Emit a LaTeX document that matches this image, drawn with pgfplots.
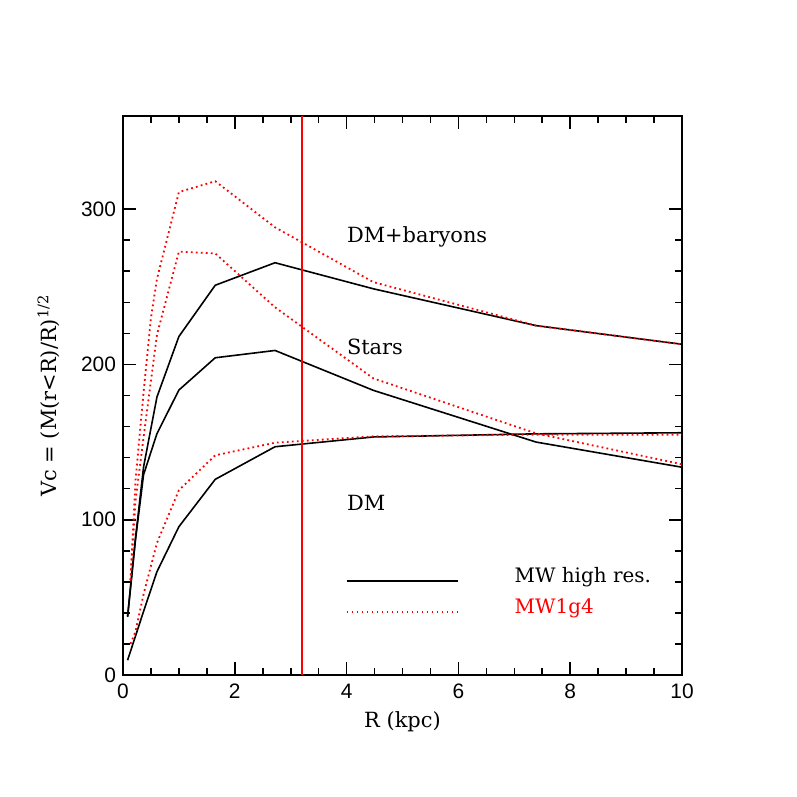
\documentclass[border=0pt]{standalone}
\usepackage{fontspec}
\setmainfont{DejaVu Serif}
\setsansfont{Liberation Sans}
\usepackage{pgfplots}
\pgfplotsset{compat=1.18}
\begin{document}
\begin{tikzpicture}
\path[use as bounding box] (-61.5bp,-61bp) rectangle (337bp,337.5bp);
\begin{axis}[
  at={(0,0)}, anchor=origin,
  scale only axis, width=279.5bp, height=279.5bp,
  xmin=0, xmax=10, ymin=0, ymax=360,
  xtick={0,2,4,6,8,10}, ytick={0,100,200,300},
  minor x tick num=3, minor y tick num=4,
  tick align=inside, tickpos=both,
  major tick length=6.5bp, minor tick length=3.5bp,
  axis line style={line width=1bp},
  every tick/.style={line width=0.8bp, black},
  /pgf/number format/assume math mode=true,
  ticklabel style={font=\sffamily\fontsize{10.5}{12}\selectfont},
  xticklabel style={yshift=-1bp},
  xlabel={R (kpc)},
  ylabel={Vc = (M(r<R)/R)\textsuperscript{1/2}},
  label style={font=\fontsize{10.5}{12}\selectfont},
  xlabel style={at={(axis description cs:0.5,-0.084)}, anchor=center},
  ylabel style={at={(axis description cs:-0.133,0.5)}, anchor=center, rotate=0},
  clip=true,
]
% DM+baryons
\addplot[black, line width=0.8bp] coordinates {(0.082,37.5)(0.135,57)(0.223,88)(0.368,134)(0.607,179)(1.0,218)(1.65,251)(2.72,265.5)(4.48,248.7)(7.39,225)(10,213)};
% Stars
\addplot[black, line width=0.8bp] coordinates {(0.082,37.5)(0.135,56)(0.223,87)(0.368,129)(0.607,155.4)(1.0,183.5)(1.65,204.3)(2.72,209)(4.48,183.3)(7.39,150)(10,133.8)};
% DM
\addplot[black, line width=0.8bp] coordinates {(0.082,9.5)(0.223,25)(0.368,41)(0.607,66.5)(1.0,95.5)(1.65,126)(2.72,147)(4.48,153.3)(7.39,155.3)(10,156)};
% red MW1g4
\addplot[red, line width=0.9bp, dash pattern=on 0.9bp off 1.6bp] coordinates {(0.135,61)(0.223,125)(0.368,182)(0.5,230)(0.607,255)(1.0,311)(1.65,318)(2.72,288.3)(4.48,253)(7.39,225)(10,213)};
\addplot[red, line width=0.9bp, dash pattern=on 0.9bp off 1.6bp] coordinates {(0.135,61)(0.223,112)(0.368,153)(0.607,219)(1.0,272.7)(1.65,271.5)(2.72,236.8)(4.48,191)(7.39,155.6)(10,135.7)};
\addplot[red, line width=0.9bp, dash pattern=on 0.9bp off 1.6bp] coordinates {(0.135,20)(0.223,28)(0.368,52)(0.607,85)(1.0,119)(1.65,141.5)(2.72,149.6)(4.48,153.7)(7.39,154.8)(10,154.8)};
% vertical line
\addplot[red, line width=1bp] coordinates {(3.2,0)(3.2,360)};
% legend lines
\addplot[black, line width=0.8bp] coordinates {(4,60.5)(6,60.5)};
\addplot[red, line width=0.9bp, dash pattern=on 0.9bp off 1.6bp] coordinates {(4,40.5)(6,40.5)};
\node[anchor=base west, inner sep=0pt, font=\fontsize{10.5}{12}\selectfont] at (axis cs:4.0,278.6) {DM+baryons};
\node[anchor=base west, inner sep=0pt, font=\fontsize{10.5}{12}\selectfont] at (axis cs:4.0,206.2) {Stars};
\node[anchor=base west, inner sep=0pt, font=\fontsize{10.5}{12}\selectfont] at (axis cs:4.0,106) {DM};
\node[anchor=base west, inner sep=0pt, font=\fontsize{10}{12}\selectfont] at (axis cs:7.0,59.6) {MW high res.};
\node[anchor=base west, inner sep=0pt, font=\fontsize{10}{12}\selectfont, text=red] at (axis cs:7.0,39.7) {MW1g4};
\end{axis}
\end{tikzpicture}
\end{document}
